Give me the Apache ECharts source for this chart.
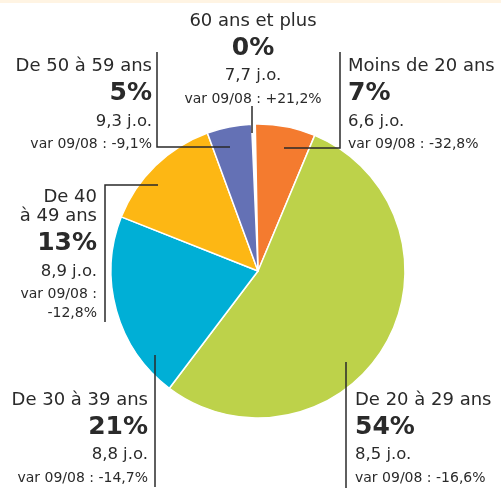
<!DOCTYPE html>
<html>
<head>
<meta charset="utf-8">
<script src="https://cdn.jsdelivr.net/npm/echarts@6/dist/echarts.min.js"></script>
<style>
  html, body { margin: 0; padding: 0; background: #ffffff; }
  #top { position: absolute; left: 0; top: 0; width: 501px; height: 3px; background: #FFF4E3; }
  #chart { position: absolute; left: 0; top: 0; width: 501px; height: 492px; }
</style>
</head>
<body>
<div id="chart"></div>
<div id="top"></div>
<script>
// ---- data ----
const categories = ['60 ans et plus', 'Moins de 20 ans', 'De 20 à 29 ans', 'De 30 à 39 ans', 'De 40 à 49 ans', 'De 50 à 59 ans'];
const shares = [0.4, 6.6, 54, 20.7, 13.4, 4.9];           // % of total (labels show rounded value)
const daysJO = ['7,7', '6,6', '8,5', '8,8', '8,9', '9,3'];  // j.o.
const var0908 = ['+21,2%', '-32,8%', '-16,6%', '-14,7%', '-12,8%', '-9,1%'];
const colors = ['#ffffff', '#F47B2F', '#BDD24A', '#00AFD6', '#FDB714', '#6471B5'];

// ---- label layout (positions of text blocks and leader lines) ----
const labelPos = [
  { x: 253, y: 11.5, align: 'center', line: [[252, 133], [252, 120], [252, 106]] },
  { x: 348, y: 57, align: 'left', line: [[284, 148], [340, 148], [340, 52]] },
  { x: 355, y: 390.5, align: 'left', line: [[346, 362], [346, 420], [346, 488]] },
  { x: 148, y: 390.5, align: 'right', line: [[155, 355], [155, 420], [155, 487]] },
  { x: 97, y: 188, align: 'right', line: [[158, 185], [105, 185], [105, 322]] },
  { x: 152, y: 57, align: 'right', line: [[230, 147], [157, 147], [157, 52]] }
];

const chart = echarts.init(document.getElementById('chart'), null, { renderer: 'canvas' });
const FONT = '"DejaVu Sans", sans-serif';
const TXT = '#2a2a2a';
const pieData = categories.map((c, i) => ({ name: c, value: shares[i], itemStyle: { color: colors[i] } }));
const common = {
  type: 'pie',
  center: [258, 271],
  radius: 147,
  startAngle: 92.5,
  clockwise: true,
  avoidLabelOverlap: false,
  silent: true
};
const option = {
  animation: false,
  backgroundColor: 'transparent',
  series: [
    Object.assign({}, common, {
      z: 2,
      data: pieData,
      itemStyle: { borderColor: '#ffffff', borderWidth: 1.5 },
      label: { show: false },
      labelLine: { show: false }
    }),
    Object.assign({}, common, {
      z: 5,
      data: pieData.map(d => ({ name: d.name, value: d.value })),
      itemStyle: { color: 'rgba(0,0,0,0)', borderWidth: 0 },
      label: {
        show: true,
        position: 'outside',
        color: TXT,
        fontFamily: FONT,
        formatter: function (p) {
          const i = p.dataIndex;
          const pct = Math.round(shares[i]) + '%';
          if (i === 4) {
            const parts = p.name.replace(' à ', '\nà ').split('\n');
            return '{name|' + parts[0] + '}\n{name|' + parts[1] + '}\n{pct|' + pct + '}\n{days|' + daysJO[i] + ' j.o.}\n{vr|var 09/08 :}\n{vr2|' + var0908[i] + '}';
          }
          return '{name|' + p.name + '}\n{pct|' + pct + '}\n{days|' + daysJO[i] + ' j.o.}\n{vr|var 09/08 : ' + var0908[i] + '}';
        },
        rich: {
          name: { fontSize: 18, lineHeight: 19, fontFamily: FONT, color: TXT },
          pct: { fontSize: 25, fontWeight: 'bold', lineHeight: 35, fontFamily: FONT, color: TXT },
          days: { fontSize: 16.5, lineHeight: 21, fontFamily: FONT, color: TXT },
          vr: { fontSize: 14, lineHeight: 25, fontFamily: FONT, color: TXT },
          vr2: { fontSize: 14, lineHeight: 13, fontFamily: FONT, color: TXT }
        }
      },
      labelLine: { show: true, lineStyle: { color: TXT, width: 1.5 } },
      labelLayout: function (params) {
        const lp = labelPos[params.dataIndex];
        return { x: lp.x, y: lp.y, align: lp.align, verticalAlign: 'top', labelLinePoints: lp.line };
      }
    })
  ]
};
chart.setOption(option);
</script>
</body>
</html>
